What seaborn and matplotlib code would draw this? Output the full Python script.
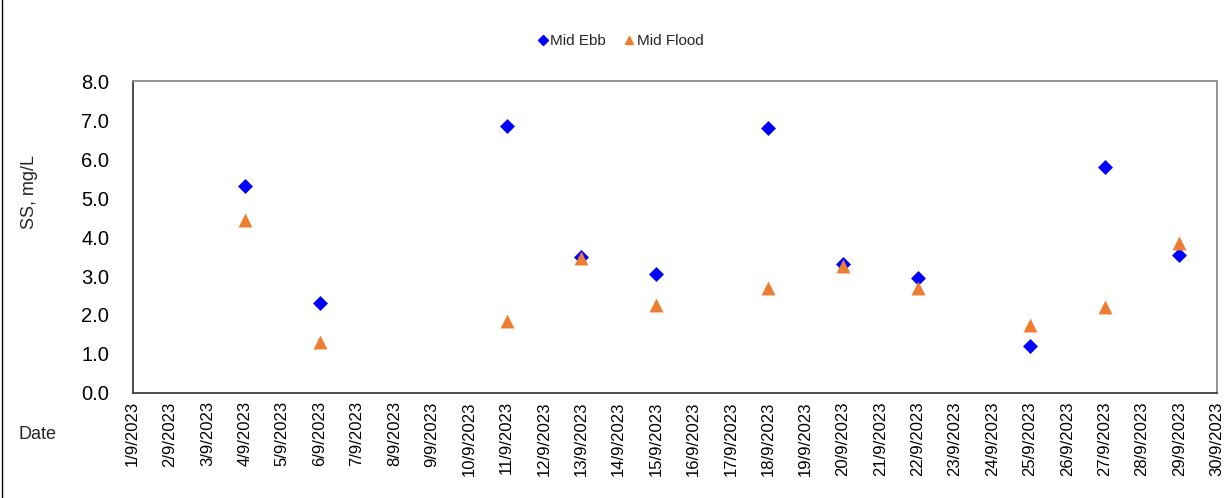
import seaborn as sns
import matplotlib.pyplot as plt
import matplotlib.dates as mdates
from matplotlib.lines import Line2D
import pandas as pd

# sampling days (Sept 2023) and SS readings, mg/L
dates = ['2023-09-04', '2023-09-06', '2023-09-11', '2023-09-13', '2023-09-15', '2023-09-18',
         '2023-09-20', '2023-09-22', '2023-09-25', '2023-09-27', '2023-09-29']
mid_ebb = [5.3, 2.3, 6.85, 3.5, 3.05, 6.8, 3.3, 2.95, 1.2, 5.8, 3.55]
mid_flood = [4.45, 1.3, 1.85, 3.45, 2.25, 2.7, 3.25, 2.7, 1.75, 2.2, 3.85]

df = pd.DataFrame({'Date': pd.to_datetime(dates), 'Mid Ebb': mid_ebb, 'Mid Flood': mid_flood})

sns.set_style('white')
plt.rcParams['font.family'] = ['Liberation Sans', 'DejaVu Sans']

fig = plt.figure(figsize=(12.29, 4.98), dpi=100)
ax = fig.add_axes([0.108, 0.211, 0.882, 0.626])

# series name, colour, marker, marker area
styles = [('Mid Ebb', '#0000FF', 'D', 58), ('Mid Flood', '#ED7D31', '^', 100)]
for name, color, marker, size in styles:
    sns.scatterplot(data=df, x='Date', y=name, color=color, marker=marker,
                    s=size, linewidth=0, ax=ax, legend=False, zorder=3)

ax.set_xlim(pd.Timestamp('2023-09-01'), pd.Timestamp('2023-09-30'))
ax.set_ylim(0, 8)
ax.set_yticks(range(0, 9))
ax.set_yticklabels([f'{v:.1f}' for v in range(0, 9)], fontsize=14.5)
ax.xaxis.set_major_locator(mdates.DayLocator())
ax.xaxis.set_major_formatter(mdates.DateFormatter('%-d/%-m/%Y'))
plt.setp(ax.get_xticklabels(), rotation=90, fontsize=12)
ax.tick_params(direction='in', length=4, width=1, colors='#404040', labelcolor='black')
ax.tick_params(axis='x', pad=6)
ax.tick_params(axis='y', pad=17)
ax.set_xlabel('')
ax.set_ylabel('')

for side in ['left', 'bottom']:
    ax.spines[side].set_color('#404040')
    ax.spines[side].set_linewidth(1.3)
for side in ['top', 'right']:
    ax.spines[side].set_color('#8c8c8c')
    ax.spines[side].set_linewidth(1.3)

fig.text(0.024, 0.615, 'SS, mg/L', rotation=90, ha='center', va='center', fontsize=13)
fig.text(0.015, 0.127, 'Date', ha='left', va='center', fontsize=13)

handles = [Line2D([], [], marker='D', color='#0000FF', linestyle='', markersize=5),
           Line2D([], [], marker='^', color='#ED7D31', linestyle='', markersize=6)]
fig.legend(handles, ['Mid Ebb', 'Mid Flood'], loc='center', bbox_to_anchor=(0.505, 0.917),
           ncol=2, frameon=False, fontsize=11, handlelength=0.6, handletextpad=0.2,
           columnspacing=1.2)

fig.add_artist(Line2D([0.002, 0.002], [0, 1], transform=fig.transFigure, color='black', linewidth=1))

fig.savefig('out.png', dpi=100)
